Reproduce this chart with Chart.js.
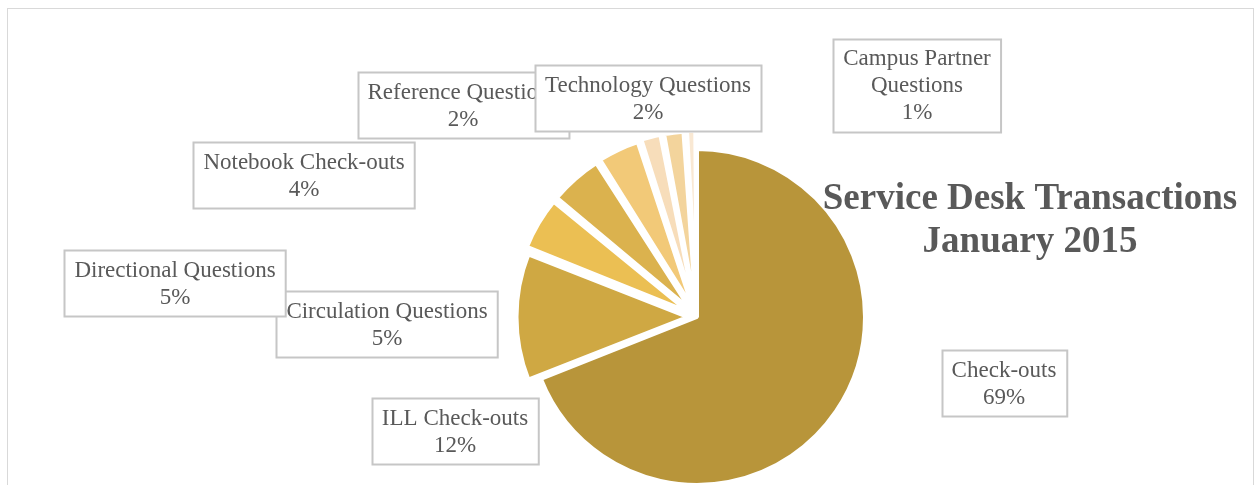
<!doctype html>
<html lang="en">
<head>
    <meta charset="utf-8">
    <title>Service Desk Transactions January 2015</title>
    <script src="https://cdn.jsdelivr.net/npm/chart.js"></script>
    <style>
        html, body { margin: 0; padding: 0; background: #fff; }
        #wrap { width: 1255px; height: 485px; }
    </style>
</head>
<body>
    <div id="wrap"><canvas id="pieChart" width="1255" height="485"></canvas></div>
    <script>
        // data (percent of transactions)
        const categories = ["Check-outs", "ILL Check-outs", "Circulation Questions", "Directional Questions",
            "Notebook Check-outs", "Reference Questions", "Technology Questions", "Campus Partner Questions"];
        const values = [69, 12, 5, 5, 4, 2, 2, 1];
        const titleLines = ["Service Desk Transactions", "January 2015"];

        const sliceColors = ['#B8953A', '#CFA843', '#EBBF53', '#DBB24E', '#F2C978', '#F7DDBA', '#F3D49C', '#F9E8D3'];
        // chart.js v4 moves an arc by offset / 4 (and grows it a bit too)
        const sliceOffsets = [0, 38, 38, 38, 38, 38, 38, 38];

        // label box centres, relative to the pie centre; lines = how the label wraps
        const labelPlace = [
            { dx: 307, dy: 66, lines: ["Check-outs"] },
            { dx: -242, dy: 114, lines: ["ILL Check-outs"] },
            { dx: -310, dy: 7, lines: ["Circulation Questions"] },
            { dx: -522, dy: -34, lines: ["Directional Questions"] },
            { dx: -393, dy: -142, lines: ["Notebook Check-outs"] },
            { dx: -234, dy: -212, lines: ["Reference Questions"] },
            { dx: -49, dy: -219, lines: ["Technology Questions"] },
            { dx: 220, dy: -232, lines: ["Campus Partner", "Questions"] }
        ];

        const textColor = '#595959';
        const labelFont = '23px "Liberation Serif", serif';
        const lineH = 27;

        const frame = {
            id: 'frame',
            beforeDraw(chart) {
                const c = chart.ctx;
                c.save();
                c.fillStyle = '#fff';
                c.fillRect(0, 0, chart.width, chart.height);
                c.strokeStyle = '#D9D9D9';
                c.lineWidth = 1;
                c.strokeRect(7.5, 8.5, 1246, 520);
                c.restore();
            }
        };

        const boxLabels = {
            id: 'boxLabels',
            afterDatasetsDraw(chart) {
                const c = chart.ctx;
                const meta = chart.getDatasetMeta(0);
                const total = values.reduce((a, b) => a + b, 0);
                c.save();
                c.font = labelFont;
                c.textAlign = 'center';
                c.textBaseline = 'middle';
                meta.data.forEach((arc, i) => {
                    const p = labelPlace[i];
                    const lines = p.lines.concat([Math.round(values[i] / total * 100) + '%']);
                    const w = Math.max(...lines.map(t => c.measureText(t).width)) + 20;
                    const h = lines.length * lineH + 12;
                    const cx = arc.x + p.dx, cy = arc.y + p.dy;
                    const x0 = Math.round(cx - w / 2) + 0.5, y0 = Math.round(cy - h / 2) + 0.5;
                    c.fillStyle = '#fff';
                    c.fillRect(x0, y0, w, h);
                    c.strokeStyle = '#C6C6C6';
                    c.lineWidth = 2;
                    c.strokeRect(x0, y0, w, h);
                    c.fillStyle = textColor;
                    lines.forEach((t, k) => {
                        c.fillText(t, cx, cy + 1 - (lines.length - 1) * lineH / 2 + k * lineH);
                    });
                });

                // title next to the pie
                const a = meta.data[0];
                c.font = 'bold 37px "Liberation Serif", serif';
                c.fillStyle = textColor;
                titleLines.forEach((t, k) => {
                    c.fillText(t, a.x + 333, a.y - 118 + k * 43);
                });
                c.restore();
            }
        };

        new Chart(document.getElementById('pieChart'), {
            type: 'pie',
            data: {
                labels: categories,
                datasets: [{
                    data: values,
                    backgroundColor: sliceColors,
                    borderColor: '#fff',
                    borderWidth: 4,
                    offset: sliceOffsets,
                    clip: false
                }]
            },
            options: {
                responsive: false,
                animation: false,
                devicePixelRatio: 1,
                radius: 168,
                layout: { padding: { left: 139, top: 149, right: 0, bottom: 0 } },
                plugins: {
                    legend: { display: false },
                    tooltip: { enabled: false },
                    title: { display: false }
                }
            },
            plugins: [frame, boxLabels]
        });
    </script>
</body>
</html>
